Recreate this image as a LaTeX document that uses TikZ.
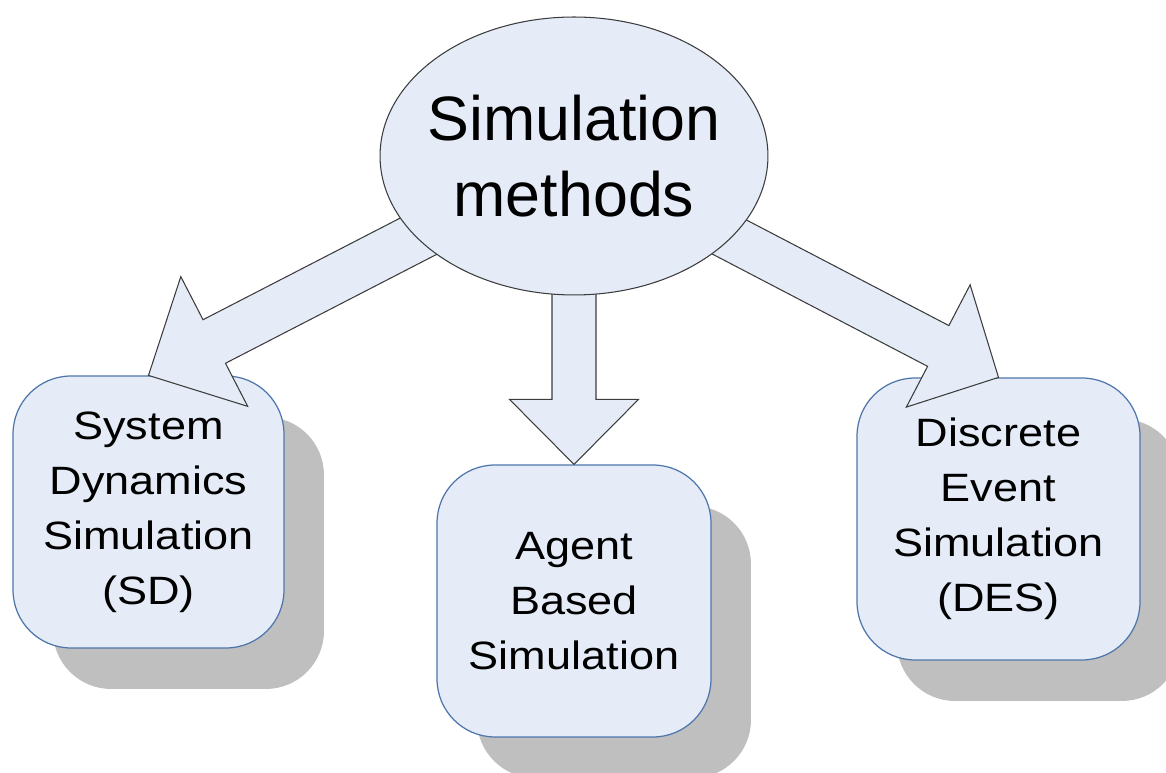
\documentclass[tikz,border=0pt]{standalone}
\usepackage{fontspec}
\setmainfont{Liberation Sans}
\newfontfamily\boxfont[FakeStretch=1.14]{Liberation Sans}
\usetikzlibrary{positioning,calc,shapes.geometric,shadows}
\definecolor{bubble}{RGB}{229,236,247}
\definecolor{rim}{RGB}{79,118,172}
\definecolor{ink}{RGB}{60,60,60}
% block arrow: from, to, half shaft, half head, head length
\newcommand{\fatarrow}[5]{%
  \coordinate (hb) at ($(#2)!#5!(#1)$);
  \draw[arrowbody] ($(#1)!#3!90:(#2)$) -- ($(hb)!#3!90:(#2)$) -- ($(hb)!#4!90:(#2)$) -- (#2)
    -- ($(hb)!#4!-90:(#2)$) -- ($(hb)!#3!-90:(#2)$) -- ($(#1)!#3!-90:(#2)$) -- cycle;}

\begin{document}
\begin{tikzpicture}[x=0.02cm,y=0.02cm,
  method/.style={draw=rim, line width=0.7pt, fill=bubble, rounded corners=1.16cm,
    align=center, inner sep=0pt, font=\boxfont\fontsize{22.5}{31.3}\selectfont,
    drop shadow={shadow xshift=0.8cm, shadow yshift=-0.82cm, fill=black!25, opacity=1}},
  arrowbody/.style={draw=ink, line width=0.6pt, fill=bubble},
  hubstyle/.style={ellipse, draw=ink, line width=0.6pt, fill=bubble,
    minimum width=7.76cm, minimum height=5.56cm, inner sep=0pt}]
			\useasboundingbox (0,0) rectangle (1166,773);
			\coordinate (hub) at (574,617);

			\node[method, minimum width=5.42cm, minimum height=5.44cm] (sd) at (148.5,261) {System\\Dynamics\\Simulation\\(SD)};
			\node[method, minimum width=5.48cm, minimum height=5.44cm] (abs) at (574,172) {Agent\\Based\\Simulation};
			\node[method, minimum width=5.66cm, minimum height=5.64cm] (des) at (998.5,254) {Discrete\\Event\\Simulation\\(DES)};

			\fatarrow{hub}{sd.north}{0.49cm}{1.46cm}{1.48cm}
			\fatarrow{hub}{abs.north}{0.44cm}{1.29cm}{1.3cm}
			\fatarrow{hub}{des.north}{0.46cm}{1.38cm}{1.36cm}

			\node[hubstyle] (sim) at (hub) {};
			\node[align=center, font=\fontsize{35.7}{43.2}\selectfont] (simtext) at (sim.center) {Simulation\\methods};
\end{tikzpicture}
\end{document}
